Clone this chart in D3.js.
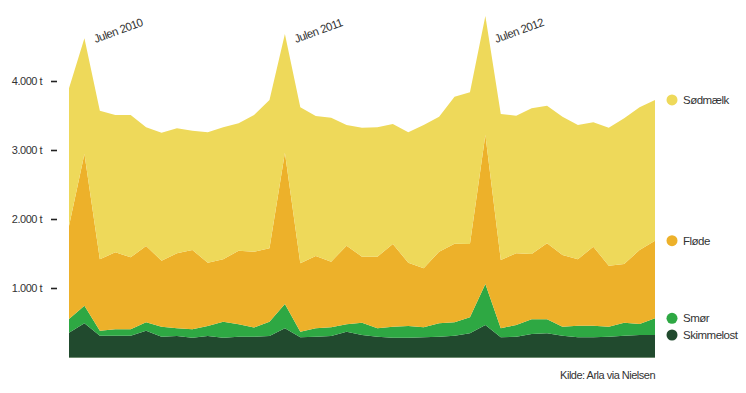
<!DOCTYPE html>
<html>
<head>
<meta charset="utf-8">
<script src="https://cdn.jsdelivr.net/npm/d3@7"></script>
<style>
  body { margin: 0; background: #fff; }
  svg text { font-family: "Liberation Sans", Arial, sans-serif; fill: #333; letter-spacing: -0.5px; }
</style>
</head>
<body>
<svg id="chart" width="746" height="393"></svg>
<script>
// 4-week Nielsen periods, P12 2010 .. P11 2013
const periods = [
  "2010-12","2010-13",
  "2011-01","2011-02","2011-03","2011-04","2011-05","2011-06","2011-07","2011-08","2011-09","2011-10","2011-11","2011-12","2011-13",
  "2012-01","2012-02","2012-03","2012-04","2012-05","2012-06","2012-07","2012-08","2012-09","2012-10","2012-11","2012-12","2012-13",
  "2013-01","2013-02","2013-03","2013-04","2013-05","2013-06","2013-07","2013-08","2013-09","2013-10","2013-11"
];

// tonnes per period
const skimmelost = [352,488,309,309,309,381,294,304,280,304,280,294,294,304,415,285,294,304,367,319,294,280,280,285,294,309,343,464,285,294,333,343,309,285,285,294,309,319,319];
const smoer      = [199,256,72,92,92,121,146,111,121,145,232,179,134,208,353,82,121,126,106,178,121,160,169,145,194,193,232,594,130,170,213,203,131,169,169,146,188,159,242];
const floede     = [1348,2198,1035,1116,1044,1107,956,1088,1150,918,904,1068,1099,1063,2193,991,1049,952,1140,957,1039,1198,918,855,1039,1141,1063,2159,991,1039,947,1102,1038,962,1145,883,851,1073,1125];
const soedmaelk  = [1995,1677,2154,1990,2062,1720,1855,1811,1729,1890,1913,1846,1980,2150,1720,2261,2029,2086,1749,1869,1875,1739,1890,2077,1956,2130,2198,1725,2116,1994,2111,1994,2005,1946,1802,2000,2111,2068,2039];

const seriesNames = ["Skimmelost", "Smør", "Fløde", "Sødmælk"];
const seriesColors = ["#214a2e", "#2ea843", "#edb12a", "#eed95a"];
const yTicks = [1000, 2000, 3000, 4000];
const annotations = [
  { label: "Julen 2010", period: "2010-13" },
  { label: "Julen 2011", period: "2011-13" },
  { label: "Julen 2012", period: "2012-13" }
];
const source = "Kilde: Arla via Nielsen";

const table = periods.map((p, i) => ({
  period: p,
  "Skimmelost": skimmelost[i],
  "Smør": smoer[i],
  "Fløde": floede[i],
  "Sødmælk": soedmaelk[i]
}));

const svg = d3.select("#chart");

const x = d3.scalePoint()
  .domain(periods)
  .range([69, 655]);

const y = d3.scaleLinear()
  .domain([0, 4000])
  .range([357, 81]);

const color = d3.scaleOrdinal().domain(seriesNames).range(seriesColors);

const stacked = d3.stack().keys(seriesNames)(table);

const area = d3.area()
  .x(d => x(d.data.period))
  .y0(d => y(d[0]))
  .y1(d => y(d[1]));

svg.append("g")
  .selectAll("path")
  .data(stacked)
  .join("path")
    .attr("fill", d => color(d.key))
    .attr("d", area);

// baseline
svg.append("line")
  .attr("x1", x.range()[0])
  .attr("x2", x.range()[1])
  .attr("y1", y(0) + 0.5)
  .attr("y2", y(0) + 0.5)
  .attr("stroke", "#6d8a6f")
  .attr("stroke-width", 1);

// y axis: dash + label, no domain line
const yAxis = svg.append("g")
  .attr("transform", "translate(57,0)")
  .call(d3.axisLeft(y)
    .tickValues(yTicks)
    .tickSize(6)
    .tickPadding(9)
    .tickFormat(d => d3.format(",")(d).replace(",", ".") + " t"));
yAxis.select(".domain").remove();
yAxis.selectAll(".tick line").attr("stroke", "#222").attr("stroke-width", 1.6);
yAxis.selectAll(".tick text")
  .attr("font-size", 11)
  .attr("font-family", null)
  .style("fill", "#333");

// christmas annotations
svg.append("g")
  .selectAll("text")
  .data(annotations)
  .join("text")
    .attr("transform", d => `translate(${x(d.period) + 11},43) rotate(-20)`)
    .attr("font-size", 11.5)
    .text(d => d.label);

// legend at the top of each band at the last period
const last = table.length - 1;
const legend = svg.append("g")
  .selectAll("g")
  .data(stacked)
  .join("g")
    .attr("transform", d => `translate(672,${y(d[last][1])})`);
legend.append("circle")
  .attr("r", 5.5)
  .attr("fill", d => color(d.key));
legend.append("text")
  .attr("x", 11)
  .attr("dy", "0.35em")
  .attr("font-size", 11.5)
  .text(d => d.key);

svg.append("text")
  .attr("x", 655)
  .attr("y", 379)
  .attr("text-anchor", "end")
  .attr("font-size", 11)
  .text(source);
</script>
</body>
</html>
